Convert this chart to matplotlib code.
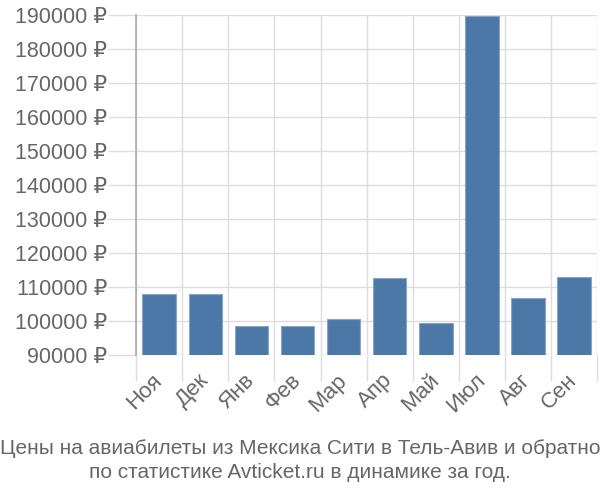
import matplotlib
matplotlib.use("Agg")
import matplotlib.pyplot as plt
import numpy as np

# ----------------------------------------------------------------------------- данные
months = ["Ноя", "Дек", "Янв", "Фев", "Мар", "Апр", "Май", "Июл", "Авг", "Сен"]
prices = [107900, 107900, 98400, 98400, 100700, 112600, 99400, 189600, 106900, 112800]
yticks = list(range(90000, 190001, 10000))
title = ("Цены на авиабилеты из Мексика Сити в Тель-Авив и обратно\n"
         "по статистике Avticket.ru в динамике за год.")

TXT = "#666666"
GRID = "#dddddd"
FAM = ["Liberation Sans", "DejaVu Sans"]
plt.rcParams["font.family"] = FAM

fig = plt.figure(figsize=(6, 5), dpi=100)
ax = fig.add_axes([0.227, 0.29, 0.768, 0.68])

x = np.arange(len(months))
ax.bar(x, prices, width=0.73, color="#4c78a8", edgecolor="#86a6c8", linewidth=0.8, zorder=3)

ax.set_xlim(-0.5, len(months) - 0.5)
ax.set_ylim(90000, 190000)

ax.set_yticks(yticks)
ax.set_yticklabels([f"{v} ₽" for v in yticks], fontsize=15.5, color=TXT)
ax.tick_params(axis="y", length=20, color=GRID, width=1, pad=1)
ax.yaxis.grid(True, color=GRID, linewidth=1, zorder=0)

ax.set_xticks(x)
ax.set_xticklabels(months, rotation=45, ha="right", va="center", rotation_mode="anchor",
                   fontsize=16, color=TXT)
ax.tick_params(axis="x", which="major", length=0, pad=16)
ax.set_xticks(np.arange(len(months) + 1) - 0.5, minor=True)
ax.tick_params(axis="x", which="minor", length=19, color=GRID, width=1)
ax.xaxis.grid(True, which="minor", color=GRID, linewidth=1, zorder=0)

for s in ["top", "right", "bottom"]:
    ax.spines[s].set_visible(False)
ax.spines["left"].set_color("#aaaaaa")
ax.spines["left"].set_linewidth(1.2)

fig.text(0.5, 0.035, title, ha="center", va="bottom", fontsize=15, color=TXT,
         linespacing=1.35)

fig.savefig("out.png", dpi=100)
